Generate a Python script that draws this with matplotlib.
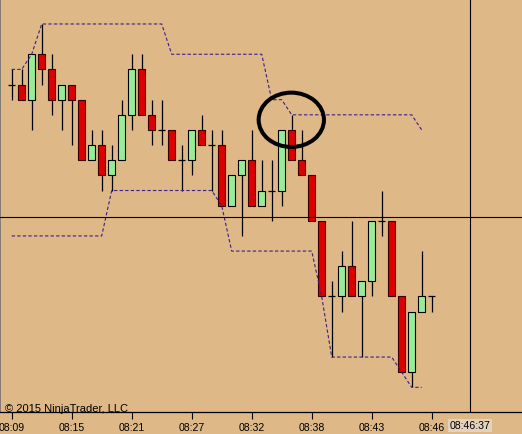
import matplotlib
matplotlib.use('Agg')
import matplotlib.pyplot as plt
from matplotlib.patches import Ellipse
from matplotlib.transforms import blended_transform_factory
import numpy as np

# ---- data (price in ticks above the lowest low of the view) ----
opens  = [20, 20, 19, 22, 21, 19, 20, 19, 15, 16, 14, 15, 18, 21, 18, 17, 17, 15, 15, 17, 16,
          16, 12, 14, 15, 12, 13, 13, 17, 15, 14, 11, 6, 6, 8, 6, 7, 11, 11, 6, 1, 5, 6]
closes = [20, 19, 22, 21, 19, 20, 19, 15, 16, 14, 15, 18, 21, 18, 17, 17, 15, 15, 17, 16, 16,
          12, 14, 15, 12, 13, 13, 17, 15, 14, 11, 6, 6, 8, 6, 7, 11, 11, 6, 1, 5, 6, 6]
highs  = [21, 21, 22, 24, 22, 20, 20, 19, 17, 17, 16, 19, 22, 22, 19, 19, 17, 16, 17, 18, 17,
          17, 14, 15, 17, 15, 15, 17, 18, 17, 14, 11, 7, 9, 11, 7, 11, 13, 11, 6, 5, 9, 6]
lows   = [19, 19, 17, 20, 18, 17, 16, 15, 15, 13, 13, 15, 17, 18, 16, 16, 15, 13, 14, 16, 13,
          12, 12, 10, 12, 12, 11, 12, 15, 14, 11, 6, 2, 5, 6, 2, 6, 10, 6, 1, 0, 5, 5]
upper_channel = [21, 21, 22, 24, 24, 24, 24, 24, 24, 24, 24, 24, 24, 24, 24, 24, 22, 22, 22, 22, 22,
                 22, 22, 22, 22, 22, 19, 19, 18, 18, 18, 18, 18, 18, 18, 18, 18, 18, 18, 18, 18, 17]
lower_channel = [10, 10, 10, 10, 10, 10, 10, 10, 10, 10, 13, 13, 13, 13, 13, 13, 13, 13, 13, 13, 13,
                 12, 9, 9, 9, 9, 9, 9, 9, 9, 9, 6, 2, 2, 2, 2, 2, 2, 2, 1, 0, 0]
tick_bars   = [0, 6, 12, 18, 24, 30, 36, 42]
tick_labels = ['08:09', '08:15', '08:21', '08:27', '08:32', '08:38', '08:43', '08:46']
cursor_bar = 45.83
cursor_price = 11.28
cursor_label = '08:46:37'
copyright_text = '\u00a9 2015 NinjaTrader, LLC'

BG = '#DEB887'
RED = '#DD0000'
GREEN = '#98EC98'
CHAN = '#3C1E8C'

plt.rcParams['font.family'] = ['Liberation Sans', 'DejaVu Sans']

W, H = 522, 435
fig = plt.figure(figsize=(W / 100, H / 100), dpi=100)
fig.patch.set_facecolor(BG)
ax = fig.add_axes([0, 22 / H, 1, 413 / H])
ax.set_facecolor(BG)

n = len(opens)
x = np.arange(n)
o = np.array(opens, float)
c = np.array(closes, float)
hi = np.array(highs, float)
lo = np.array(lows, float)

# wicks
ax.vlines(x, lo, hi, color='black', lw=0.9, zorder=2)
# bodies
body_w = 0.66
up = c > o
dn = c < o
dj = c == o
ax.bar(x[up], (c - o)[up], bottom=o[up], width=body_w, color=GREEN,
       edgecolor='black', linewidth=0.8, zorder=3)
ax.bar(x[dn], (o - c)[dn], bottom=c[dn], width=body_w, color=RED,
       edgecolor='#3A0000', linewidth=0.8, zorder=3)
ax.hlines(o[dj], x[dj] - body_w / 2, x[dj] + body_w / 2, color='black', lw=0.9, zorder=3)

# channel
xc = np.arange(len(upper_channel))
ax.plot(xc, upper_channel, color=CHAN, lw=0.8, linestyle=(0, (3, 2)), zorder=4)
ax.plot(xc, lower_channel, color=CHAN, lw=0.8, linestyle=(0, (3, 2)), zorder=4)

# crosshair
ax.axvline(cursor_bar, color='black', lw=0.8, zorder=5)
ax.axhline(cursor_price, color='black', lw=0.8, zorder=5)

# highlight ellipse
ax.add_patch(Ellipse((27.96, 17.67), 6.53, 3.59, fill=False, edgecolor='black',
                     lw=2.9, zorder=6))

ax.set_xlim(-1.17, 51.03)
ax.set_ylim(-1.63, 25.65)
ax.set_yticks([])
ax.set_xticks(tick_bars)
ax.set_xticklabels(tick_labels, fontsize=7.6)
ax.tick_params(axis='x', direction='out', length=5, width=0.8, pad=2.5, colors='black')
for s in ['top', 'right']:
    ax.spines[s].set_visible(False)
ax.spines['bottom'].set_color('black')
ax.spines['bottom'].set_linewidth(0.9)
ax.spines['left'].set_color('#707070')
ax.spines['left'].set_linewidth(1.2)

# cursor time label
tr = blended_transform_factory(ax.transData, fig.transFigure)
ax.text(cursor_bar, (H - 421.5) / H, cursor_label, transform=tr, ha='center', va='top',
        fontsize=7.6, color='black', zorder=7, clip_on=False,
        bbox=dict(boxstyle='square,pad=0.15', facecolor='#E4D2BD', edgecolor='none'))

fig.text(5 / W, (H - 411.7) / H, copyright_text, fontsize=8, ha='left', va='baseline',
         color='black')

fig.savefig('out.png', dpi=100, facecolor=BG)
